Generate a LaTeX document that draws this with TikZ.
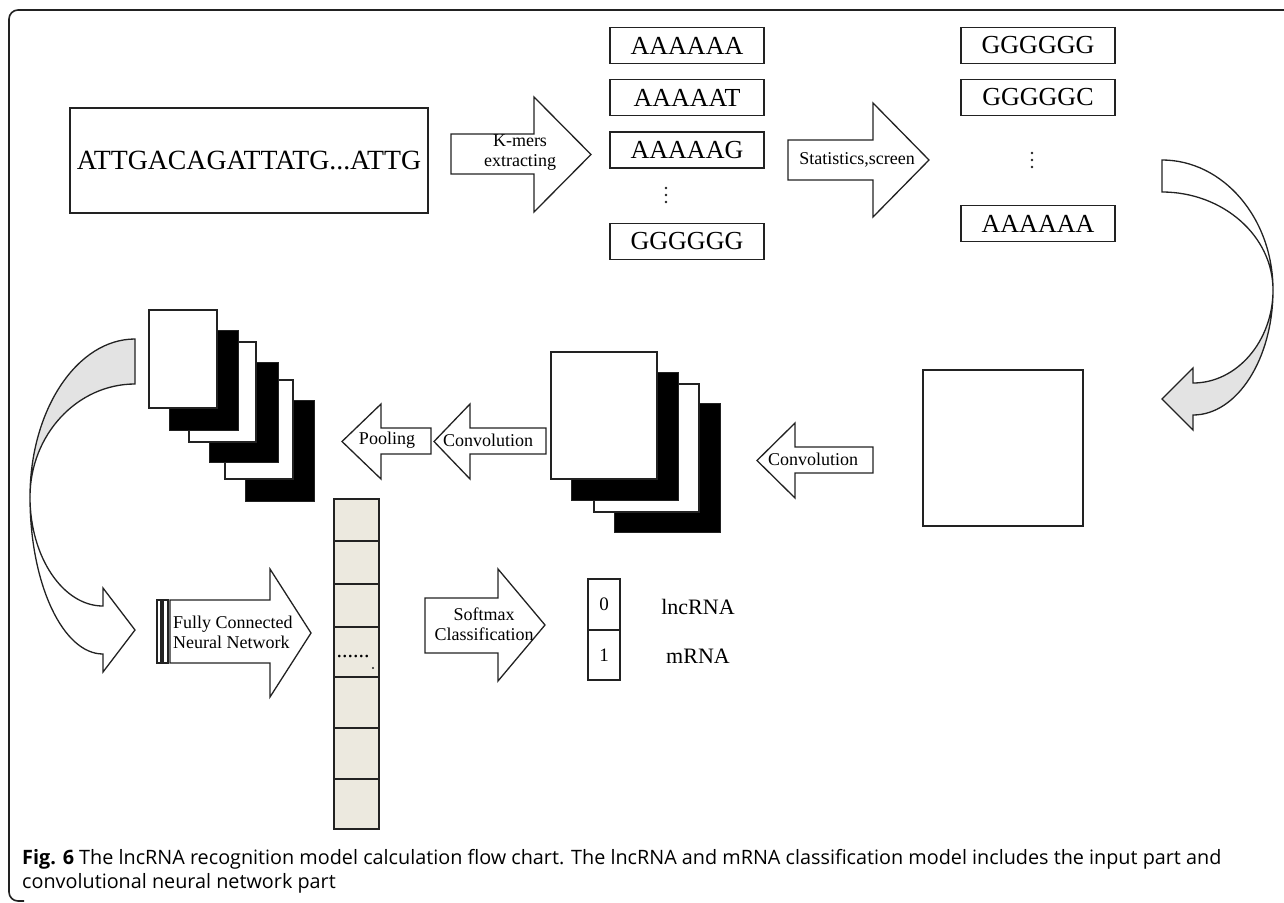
\documentclass[tikz,border=0pt]{standalone}
\usepackage{fontspec}
\setmainfont{Liberation Serif}
\newfontfamily\capfont{Open Sans}
\definecolor{ink}{HTML}{222222}
\definecolor{cellfill}{HTML}{ECE9DF}
\definecolor{bandfill}{HTML}{E3E3E3}
\tikzset{
  ln/.style={draw=ink, line width=1.3pt, line join=miter},
  kbox/.style={ln, fill=white, minimum width=154pt, minimum height=36pt,
    inner sep=0pt, font=\fontsize{26}{30}\selectfont},
  blockarrow/.style={ln, fill=white},
  lbl/.style={inner sep=0pt, align=center, font=\fontsize{18}{20}\selectfont},
  sheetw/.style={ln, fill=white},
  sheetb/.style={draw=ink, line width=1pt, fill=black},
  cell/.style={ln, fill=cellfill},
  captext/.style={anchor=base west, inner sep=0pt, font=\capfont\fontsize{19.8}{24}\selectfont},
  frame/.style={draw=ink, line width=1.6pt, rounded corners=9pt},
}
\begin{document}
\begin{tikzpicture}[x=1pt,y=-1pt]
\useasboundingbox (0,0) rectangle (1284,902);

% outer frame
\draw[frame] (1290,10) -- (9,10) -- (9,901) -- (24,901);

% input sequence
\node[ln, minimum width=358pt, minimum height=105pt, inner sep=0pt,
  font=\fontsize{27.8}{32}\selectfont] (seq) at (249,160.5) {ATTGACAGATTATG...ATTG};

% k-mer extraction arrow
\draw[blockarrow] (451,134) -- (534,134) -- (534,97) -- (591,154.5) -- (534,212) -- (534,174) -- (451,174) -- cycle;
\node[lbl] (kmerlbl) at (520,153) {K-mers\\extracting};

% all k-mers
\node[kbox] (a1) at (687,45.5) {AAAAAA};
\node[kbox] (a2) at (687,97.5) {AAAAAT};
\node[kbox] (a3) at (687,150) {AAAAAG};
\coordinate (adots) at (666,195);
\foreach \d in {-7,0,7} \fill[ink] ([yshift=-\d pt]adots) circle (1.4pt);
\node[kbox] (a4) at (687,241.5) {GGGGGG};

% statistics arrow
\draw[blockarrow] (788,140) -- (873,140) -- (873,103) -- (929,160) -- (873,217) -- (873,180) -- (788,180) -- cycle;
\node[lbl] (statlbl) at (857,160) {Statistics,screen};

% selected k-mers
\node[kbox] (b1) at (1038,45.5) {GGGGGG};
\node[kbox] (b2) at (1038,97.5) {GGGGGC};
\coordinate (bdots) at (1032,160);
\foreach \d in {-7,0,7} \fill[ink] ([yshift=-\d pt]bdots) circle (1.4pt);
\node[kbox] (b3) at (1038,223.5) {AAAAAA};

% curved arrow on the right: white upper band, shaded lower band with head
\draw[ln, fill=white] (1162,160) .. controls (1223,160) and (1273,218) .. (1273,290)
  .. controls (1273,236) and (1223,192) .. (1162,192) -- cycle;
\draw[ln, fill=bandfill] (1273,290) .. controls (1273,359) and (1237,415) .. (1193,415)
  -- (1193,430) -- (1162,399) -- (1193,368) -- (1193,383)
  .. controls (1237,383) and (1273,341) .. (1273,290) -- cycle;

% input matrix
\node[ln, minimum width=160pt, minimum height=156pt, inner sep=0pt] (mat) at (1003,448) {};

% first convolution arrow
\draw[blockarrow] (873,447) -- (795,447) -- (795,423) -- (757,460.5) -- (795,498) -- (795,473) -- (873,473) -- cycle;
\node[lbl] (conv1lbl) at (813,459) {Convolution};

% first feature maps
\draw[sheetb] (614,403) rectangle (720,532);
\draw[sheetw] (594,384) rectangle (699,512);
\draw[sheetb] (571,372) rectangle (678,500);
\draw[sheetw] (551,352) rectangle (657,479);

% second convolution and pooling arrows
\draw[blockarrow] (546,428) -- (470,428) -- (470,404) -- (434,441.5) -- (470,479) -- (470,454) -- (546,454) -- cycle;
\node[lbl] (conv2lbl) at (488,440) {Convolution};
\draw[blockarrow] (431,428) -- (381,428) -- (381,404) -- (342,441.5) -- (381,479) -- (381,454) -- (431,454) -- cycle;
\node[lbl] (poollbl) at (387,440) {Pooling};

% pooled feature maps
\draw[sheetb] (245,400) rectangle (314,501);
\draw[sheetw] (225,380) rectangle (293,479);
\draw[sheetb] (209,362) rectangle (278,462);
\draw[sheetw] (189,342) rectangle (256,442);
\draw[sheetb] (169,330) rectangle (238,430);
\draw[sheetw] (149,310) rectangle (217,408);

% curved arrow on the left: shaded upper band, white lower band with head
\draw[ln, fill=bandfill] (135,339) .. controls (77,339) and (30,410) .. (30,497)
  .. controls (30,435) and (77,384) .. (135,384) -- cycle;
\draw[ln, fill=white] (30,497) .. controls (30,584) and (63,654) .. (103,654)
  -- (103,672) -- (135,630) -- (103,588) -- (103,606)
  .. controls (63,606) and (30,557) .. (30,497) -- cycle;

% fully connected layer arrow
\draw[ln, fill=white] (157,600) rectangle (161,663);
\draw[ln, fill=white] (163,600) rectangle (168,663);
\draw[blockarrow] (170,600) -- (270,600) -- (270,569) -- (311,633) -- (270,697) -- (270,663) -- (170,663) -- cycle;
\node[lbl, anchor=west, align=left] (fclbl) at (173,632) {Fully Connected\\Neural Network};

% flattened vector
\foreach \t/\b [count=\i] in {499/541,541/584,584/627,627/677,677/728,728/779,779/829}
  \draw[cell] (334,\t) rectangle (379,\b) coordinate (c\i);
\node[inner sep=0pt, font=\fontsize{22}{24}\selectfont] (vdots) at (353,657) {......};
\fill[ink] (373,668) circle (1.1pt);

% softmax arrow
\draw[blockarrow] (425,598) -- (498,598) -- (498,569) -- (545,625) -- (498,681) -- (498,653) -- (425,653) -- cycle;
\node[lbl] (smlbl) at (484,624) {Softmax\\Classification};

% output
\node[ln, minimum width=32pt, minimum height=51pt, inner sep=0pt,
  font=\fontsize{19}{22}\selectfont] (o0) at (604,604.5) {0};
\node[ln, minimum width=32pt, minimum height=50pt, inner sep=0pt,
  font=\fontsize{19}{22}\selectfont] (o1) at (604,655) {1};
\node[inner sep=0pt, font=\fontsize{22}{24}\selectfont] (lnc) at (698,607) {lncRNA};
\node[inner sep=0pt, font=\fontsize{22}{24}\selectfont] (mrna) at (698,656) {mRNA};

% caption
\node[captext] (cap1) at (22,864) {\textbf{Fig. 6} The lncRNA recognition model calculation flow chart. The lncRNA and mRNA classification model includes the input part and};
\node[captext] (cap2) at (22,888) {convolutional neural network part};
\end{tikzpicture}
\end{document}
